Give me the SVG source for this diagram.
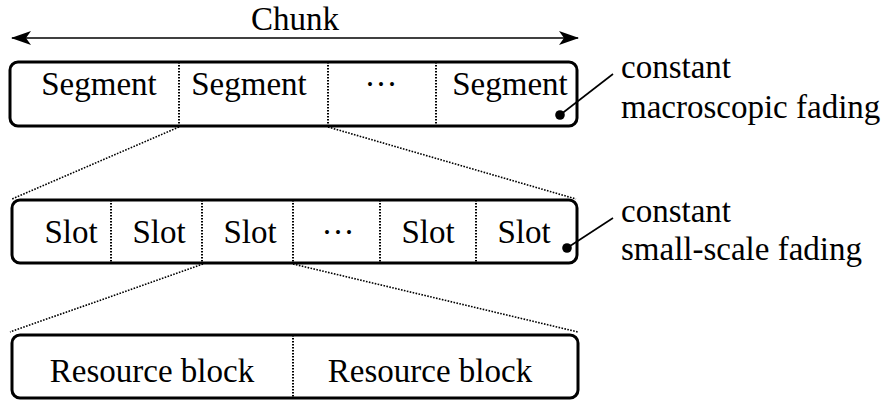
<svg xmlns="http://www.w3.org/2000/svg" width="888" height="403" viewBox="0 0 888 403">
  <defs>
    <marker id="stealth" viewBox="0 0 20 14" refX="19" refY="7" markerWidth="20" markerHeight="14" markerUnits="userSpaceOnUse" orient="auto-start-reverse">
      <path d="M0,0 L20,7 L0,14 L5,7 Z" fill="#000"/>
    </marker>
  </defs>
  <style>
    text { font-family: "Liberation Serif", "DejaVu Serif", "Noto Serif", "Times New Roman", Times, FreeSerif, Tinos, Georgia, serif; font-size: 33px; fill: #000; }
    .mid { text-anchor: middle; }
    .box { fill: #fff; stroke: #000; stroke-width: 3; }
    .div { stroke: #000; stroke-width: 2; stroke-dasharray: 1.6 1.4; fill: none; }
    .zoom { stroke: #000; stroke-width: 1.6; stroke-dasharray: 1.6 1.4; fill: none; }
    .lead { stroke: #000; stroke-width: 1.6; fill: none; }
  </style>

  <!-- span of one chunk -->
  <g id="chunk-span">
    <line x1="12" y1="38" x2="578" y2="38" stroke="#000" stroke-width="1.6" marker-start="url(#stealth)" marker-end="url(#stealth)"/>
    <text class="mid" x="295" y="30">Chunk</text>
  </g>

  <!-- chunk split into segments -->
  <g id="segments">
    <rect class="box" x="10" y="62" width="567" height="64" rx="8"/>
    <line class="div" x1="179" y1="62" x2="179" y2="126"/>
    <line class="div" x1="328" y1="62" x2="328" y2="126"/>
    <line class="div" x1="436" y1="62" x2="436" y2="126"/>
    <text class="mid" x="99" y="95">Segment</text>
    <text class="mid" x="249" y="95">Segment</text>
    <text class="mid" x="381" y="95">···</text>
    <text class="mid" x="510" y="95">Segment</text>
  </g>

  <!-- segment split into slots -->
  <g id="slots">
    <rect class="box" x="12" y="200" width="565" height="63" rx="8"/>
    <line class="div" x1="111" y1="200" x2="111" y2="263"/>
    <line class="div" x1="202" y1="200" x2="202" y2="263"/>
    <line class="div" x1="293" y1="200" x2="293" y2="263"/>
    <line class="div" x1="380" y1="200" x2="380" y2="263"/>
    <line class="div" x1="476" y1="200" x2="476" y2="263"/>
    <text class="mid" x="71" y="243">Slot</text>
    <text class="mid" x="159" y="243">Slot</text>
    <text class="mid" x="250" y="243">Slot</text>
    <text class="mid" x="338" y="243">···</text>
    <text class="mid" x="428" y="243">Slot</text>
    <text class="mid" x="524" y="243">Slot</text>
  </g>

  <!-- slot split into resource blocks -->
  <g id="resource-blocks">
    <rect class="box" x="12" y="335" width="566" height="63" rx="8"/>
    <line class="div" x1="293" y1="335" x2="293" y2="398"/>
    <text class="mid" x="152" y="382">Resource block</text>
    <text class="mid" x="430" y="382">Resource block</text>
  </g>

  <!-- fading annotations -->
  <g id="macro-fading">
    <text x="621" y="78">constant</text>
    <text x="621" y="118">macroscopic fading</text>
  </g>
  <g id="small-fading">
    <text x="621" y="222">constant</text>
    <text x="621" y="260">small-scale fading</text>
  </g>

  <g id="connectors">
    <line class="zoom" x1="179" y1="127" x2="12" y2="199"/>
    <line class="zoom" x1="328" y1="127" x2="576" y2="199"/>
    <line class="zoom" x1="203" y1="264" x2="10" y2="332"/>
    <line class="zoom" x1="293" y1="264" x2="578" y2="332"/>
    <line class="lead" x1="560" y1="115" x2="613" y2="74"/>
    <circle cx="560" cy="115" r="4.8" fill="#000"/>
    <line class="lead" x1="567" y1="248" x2="613" y2="218"/>
    <circle cx="567" cy="248" r="4.8" fill="#000"/>
  </g>
</svg>
